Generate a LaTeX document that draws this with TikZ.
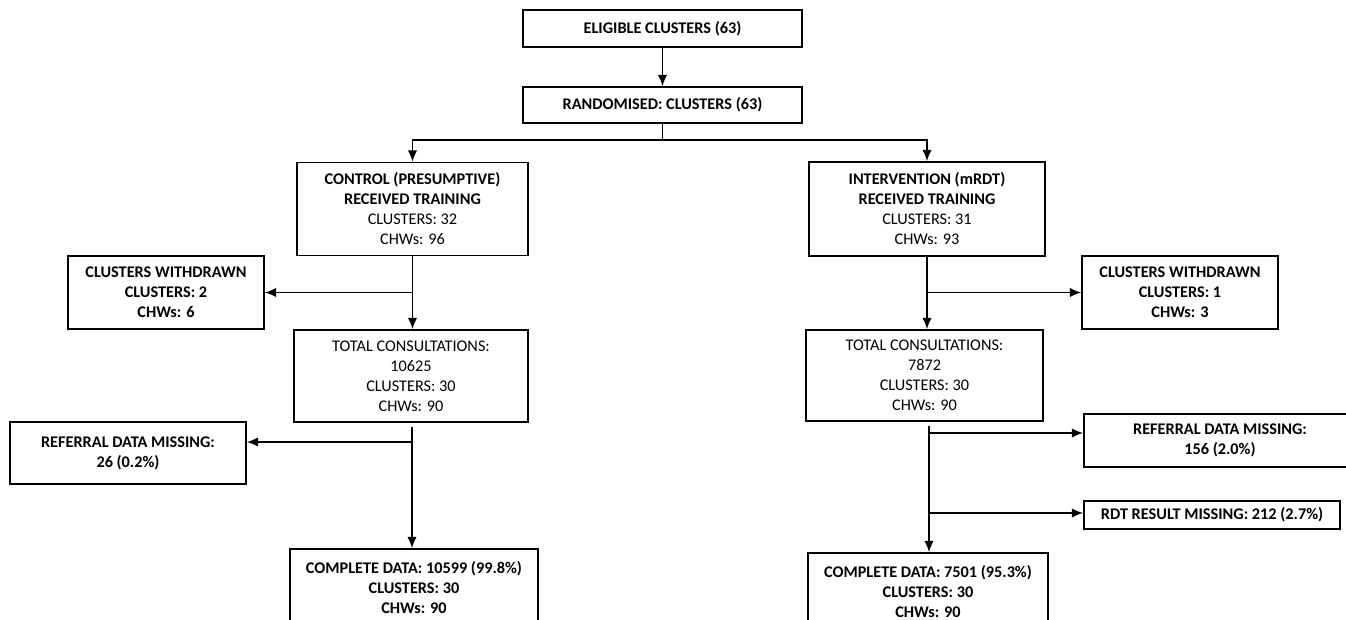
\documentclass[tikz,border=0pt]{standalone}
\usepackage{fontspec}
\setmainfont{Carlito}
\usetikzlibrary{arrows.meta}
\tikzset{
  flowbox/.style={draw, line width=1.2pt, align=center, inner sep=0pt, font=\fontsize{12.2}{15}\selectfont},
  boxsize/.style 2 args={minimum width=#1*0.75pt, minimum height=#2*0.75pt},
  flowline/.style={line width=1.2pt},
  flowarrow/.style={-{Latex[length=8.5pt,width=7pt]}, line width=1.2pt},
}
\begin{document}
\begin{tikzpicture}[x=0.75pt,y=-0.75pt]
  \useasboundingbox (0,0) rectangle (1346,620);
  \clip (0,0) rectangle (1346,620);
  % top of the chart
  \node[flowbox, boxsize={279}{37}] (elig) at (662.5,28.5) {\textbf{ELIGIBLE CLUSTERS (63)}};
  \node[flowbox, boxsize={279}{36}] (rand) at (662.5,105) {\textbf{RANDOMISED: CLUSTERS (63)}};
  % arms
  \node[flowbox, boxsize={231}{93}] (ctrl) at (412.5,209) {\textbf{CONTROL (PRESUMPTIVE)}\\\textbf{RECEIVED TRAINING}\\CLUSTERS: 32\\CHWs: 96};
  \node[flowbox, boxsize={236}{94}] (intv) at (927,209) {\textbf{INTERVENTION (mRDT)}\\\textbf{RECEIVED TRAINING}\\CLUSTERS: 31\\CHWs: 93};
  \node[flowbox, boxsize={196}{73}] (wdL) at (166,292.5) {\textbf{CLUSTERS WITHDRAWN}\\\textbf{CLUSTERS: 2}\\\textbf{CHWs: 6}};
  \node[flowbox, boxsize={196}{73}] (wdR) at (1180,292.5) {\textbf{CLUSTERS WITHDRAWN}\\\textbf{CLUSTERS: 1}\\\textbf{CHWs: 3}};
  \node[flowbox, boxsize={234}{92}] (totL) at (411,376) {TOTAL CONSULTATIONS:\\10625\\CLUSTERS: 30\\CHWs: 90};
  \node[flowbox, boxsize={237}{91}] (totR) at (924.5,375.5) {TOTAL CONSULTATIONS:\\7872\\CLUSTERS: 30\\CHWs: 90};
  % missing data
  \node[flowbox, boxsize={236}{62}] (refL) at (128,453) {\textbf{REFERRAL DATA MISSING:}\\\textbf{26 (0.2\%)}};
  \node[flowbox, boxsize={272}{53}] (refR) at (1220,440.5) {\textbf{REFERRAL DATA MISSING:}\\\textbf{156 (2.0\%)}};
  \node[flowbox, boxsize={256}{28}] (rdt) at (1212,515) {\textbf{RDT RESULT MISSING: 212 (2.7\%)}};
  % complete data
  \node[flowbox, boxsize={248}{78}] (compL) at (414,588) {\textbf{COMPLETE DATA: 10599 (99.8\%)}\\\textbf{CLUSTERS: 30}\\\textbf{CHWs: 90}};
  \node[flowbox, boxsize={240}{78}] (compR) at (928,592) {\textbf{COMPLETE DATA: 7501 (95.3\%)}\\\textbf{CLUSTERS: 30}\\\textbf{CHWs: 90}};

  \coordinate (split) at (662.5,140);
  \coordinate (refLy) at (412,442);
  \coordinate (refRy) at (929,433);
  \coordinate (rdtRy) at (929,513);

  \draw[flowarrow] (elig) -- (rand);
  \draw[flowline] (rand.south) -- (split);
  \draw[flowarrow] (split) -| (ctrl.north);
  \draw[flowarrow] (split) -| (intv.north);
  \draw[flowarrow] (ctrl.south) -- (ctrl.south |- totL.north);
  \draw[flowarrow] (ctrl.south |- wdL.east) -- (wdL.east);
  \draw[flowarrow] (intv.south) -- (intv.south |- totR.north);
  \draw[flowarrow] (intv.south |- wdR.west) -- (wdR.west);
  \draw[flowarrow, shorten <=3pt] (refLy |- totL.south) -- (refLy |- compL.north);
  \draw[flowarrow] (refLy) -- (refLy -| refL.east);
  \draw[flowarrow, shorten <=3pt] (refRy |- totR.south) -- (refRy |- compR.north);
  \draw[flowarrow] (refRy) -- (refRy -| refR.west);
  \draw[flowarrow] (rdtRy) -- (rdtRy -| rdt.west);
\end{tikzpicture}
\end{document}
